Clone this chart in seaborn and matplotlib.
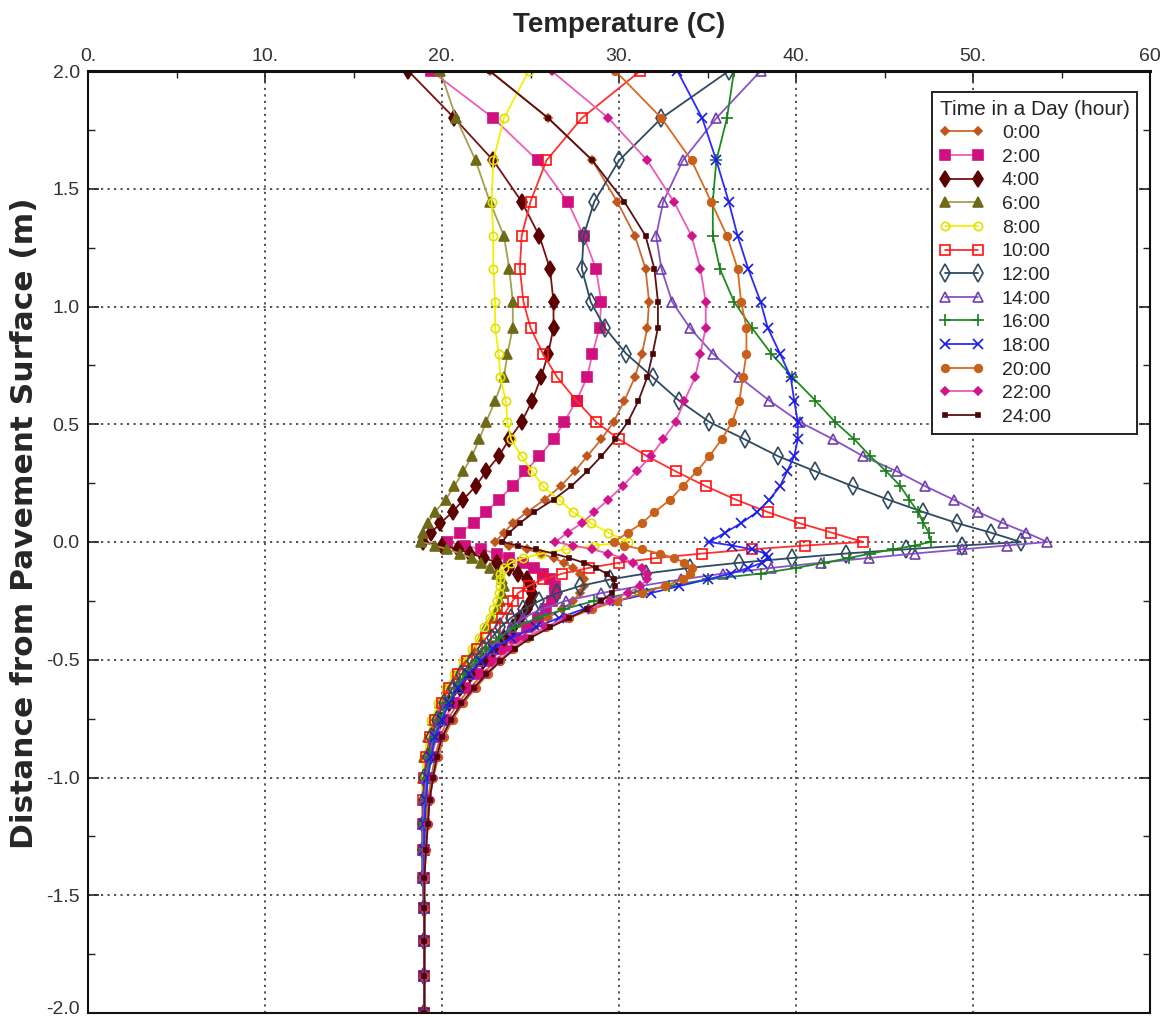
import matplotlib
matplotlib.use("Agg")
import matplotlib.pyplot as plt
from matplotlib.ticker import MultipleLocator
from matplotlib.transforms import ScaledTranslation
import seaborn as sns

# depth of the model nodes (m), surface = 0
depth = [2.0, 1.8, 1.62, 1.445, 1.30, 1.16, 1.02, 0.91, 0.80, 0.70, 0.60, 0.51, 0.436, 0.364, 0.30,
         0.237, 0.18, 0.127, 0.08, 0.04, 0.0,
         -0.015, -0.031, -0.049, -0.068, -0.088, -0.11, -0.134, -0.159, -0.187, -0.217, -0.25, -0.285,
         -0.322, -0.363, -0.407, -0.454, -0.506, -0.561, -0.62, -0.685, -0.755, -0.83, -0.911, -1.0,
         -1.094, -1.196, -1.307, -1.426, -1.555, -1.694, -1.844, -2.0]

# temperature (C) at each node, one list per hour
t_0000 = [22.7, 26.0, 28.5, 29.9, 30.9, 31.5, 31.7, 31.6, 31.3, 30.9, 30.3, 29.7, 29.0, 28.2, 27.5,
          26.7, 25.8, 24.8, 24.0, 23.5, 23.0,
          23.8, 24.8, 25.6, 26.3, 26.9, 27.4, 27.8, 28.0, 28.0, 27.8, 27.4, 26.8, 26.0, 25.2, 24.4,
          23.7, 23.0, 22.3, 21.6, 20.9, 20.3, 19.9, 19.6, 19.4, 19.2, 19.1, 19.0, 19.0, 19.0, 19.0, 19.0, 19.0]
t_0200 = [19.4, 22.9, 25.4, 27.1, 28.0, 28.7, 29.0, 28.9, 28.5, 28.2, 27.6, 26.9, 26.3, 25.5, 24.7,
          24.0, 23.2, 22.5, 21.8, 21.0, 20.3,
          21.3, 22.2, 23.1, 23.8, 24.6, 25.2, 25.7, 26.1, 26.4, 26.4, 26.2, 25.9, 25.4, 24.8, 24.1,
          23.4, 22.7, 22.0, 21.3, 20.7, 20.1, 19.7, 19.4, 19.2, 19.1, 19.0, 19.0, 19.0, 19.0, 19.0, 19.0, 19.0]
t_0400 = [18.1, 20.7, 22.9, 24.5, 25.5, 26.1, 26.3, 26.3, 26.0, 25.6, 25.1, 24.5, 23.8, 23.2, 22.5,
          21.9, 21.2, 20.6, 19.9, 19.4, 18.9,
          20.0, 20.9, 21.6, 22.4, 23.1, 23.8, 24.3, 24.8, 25.0, 25.1, 25.0, 24.8, 24.4, 24.0, 23.5,
          22.9, 22.3, 21.6, 21.0, 20.4, 19.9, 19.5, 19.3, 19.1, 19.0, 19.0, 18.9, 18.9, 19.0, 19.0, 19.0, 19.0]
t_0600 = [19.9, 20.8, 21.9, 22.7, 23.5, 23.8, 24.0, 24.0, 23.7, 23.5, 23.0, 22.5, 22.1, 21.7, 21.2,
          20.7, 20.2, 19.6, 19.2, 18.9, 18.8,
          19.6, 20.3, 21.0, 21.7, 22.2, 22.7, 23.1, 23.4, 23.5, 23.4, 23.3, 23.1, 22.8, 22.5, 22.2,
          21.8, 21.3, 20.8, 20.3, 19.9, 19.5, 19.2, 19.0, 18.9, 18.9, 18.9, 18.9, 18.9, 19.0, 19.0, 19.0, 19.0]
t_0800 = [24.9, 23.5, 22.9, 22.8, 22.9, 22.9, 23.0, 23.0, 23.2, 23.3, 23.6, 23.7, 23.9, 24.5, 25.1,
          25.7, 26.6, 27.4, 28.4, 29.4, 30.5,
          28.6, 27.0, 25.6, 24.6, 23.9, 23.5, 23.3, 23.3, 23.3, 23.2, 23.1, 22.9, 22.7, 22.4, 22.1,
          21.7, 21.2, 20.7, 20.2, 19.8, 19.4, 19.2, 19.0, 18.9, 18.9, 18.9, 18.9, 18.9, 19.0, 19.0, 19.0, 19.0]
t_1000 = [31.2, 27.9, 25.9, 25.0, 24.5, 24.4, 24.6, 25.0, 25.7, 26.5, 27.6, 28.7, 30.0, 31.6, 33.2,
          34.9, 36.6, 38.4, 40.2, 42.0, 43.8,
          40.5, 37.5, 34.7, 32.1, 30.0, 28.3, 26.8, 25.7, 24.9, 24.3, 24.0, 23.7, 23.4, 23.0, 22.5,
          22.0, 21.4, 20.9, 20.4, 20.0, 19.6, 19.3, 19.1, 19.0, 18.9, 18.9, 18.9, 18.9, 19.0, 19.0, 19.0, 19.0]
t_1200 = [36.2, 32.4, 30.0, 28.6, 28.0, 27.9, 28.4, 29.2, 30.4, 31.9, 33.4, 35.1, 37.1, 39.0, 41.1,
          43.2, 45.2, 47.2, 49.1, 51.0, 52.7,
          49.4, 46.2, 42.8, 39.8, 36.8, 34.0, 31.5, 29.5, 27.8, 26.5, 25.5, 24.6, 23.9, 23.3, 22.8,
          22.3, 21.7, 21.1, 20.6, 20.1, 19.7, 19.4, 19.2, 19.0, 19.0, 18.9, 18.9, 18.9, 19.0, 19.0, 19.0, 19.0]
t_1400 = [38.0, 35.5, 33.6, 32.5, 32.1, 32.4, 33.0, 34.0, 35.3, 36.8, 38.5, 40.2, 42.1, 43.8, 45.7,
          47.3, 48.9, 50.3, 51.7, 53.0, 54.2,
          51.9, 49.4, 46.7, 44.1, 41.4, 38.6, 35.9, 33.5, 31.2, 29.0, 27.0, 25.6, 24.6, 23.9, 23.3,
          22.7, 22.1, 21.5, 20.9, 20.3, 19.9, 19.5, 19.3, 19.1, 19.0, 18.9, 18.9, 18.9, 19.0, 19.0, 19.0, 19.0]
t_1600 = [36.5, 36.1, 35.5, 35.3, 35.3, 35.7, 36.5, 37.5, 38.6, 39.8, 41.1, 42.2, 43.3, 44.2, 45.1,
          45.9, 46.4, 46.9, 47.2, 47.5, 47.6,
          46.7, 45.5, 44.2, 43.0, 41.6, 40.0, 38.0, 35.0, 32.8, 30.6, 28.6, 26.9, 25.4, 24.1, 23.2,
          22.5, 21.9, 21.3, 20.8, 20.3, 19.9, 19.6, 19.3, 19.2, 19.1, 19.0, 19.0, 19.0, 19.0, 19.0, 19.0, 19.0]
t_1800 = [33.3, 34.7, 35.5, 36.2, 36.7, 37.3, 38.0, 38.4, 39.1, 39.7, 39.9, 40.1, 40.1, 39.9, 39.5,
          39.1, 38.5, 37.8, 36.9, 36.0, 35.1,
          36.4, 37.5, 38.3, 38.4, 38.1, 37.3, 36.3, 35.0, 33.4, 31.8, 29.9, 28.0, 26.6, 25.3, 23.9,
          22.9, 22.2, 21.5, 20.9, 20.4, 20.0, 19.6, 19.4, 19.2, 19.1, 19.0, 19.0, 19.0, 19.0, 19.0, 19.0, 19.0]
t_2000 = [29.8, 32.4, 34.1, 35.2, 36.1, 36.7, 36.9, 37.2, 37.2, 37.0, 36.8, 36.4, 35.8, 35.1, 34.4,
          33.6, 32.9, 32.0, 31.3, 30.5, 29.7,
          30.3, 31.3, 32.3, 33.1, 33.7, 34.1, 34.0, 33.6, 32.6, 31.3, 29.9, 28.5, 27.2, 25.9, 24.8,
          24.0, 23.3, 22.6, 21.9, 21.2, 20.6, 20.1, 19.8, 19.5, 19.3, 19.2, 19.1, 19.0, 19.0, 19.0, 19.0, 19.0]
t_2200 = [26.2, 29.4, 31.6, 33.1, 34.1, 34.6, 34.9, 34.9, 34.6, 34.3, 33.7, 33.2, 32.5, 31.8, 31.0,
          30.2, 29.4, 28.6, 27.9, 27.1, 26.4,
          27.4, 28.5, 29.4, 30.2, 30.8, 31.3, 31.6, 31.6, 31.2, 30.5, 29.5, 28.3, 27.0, 25.8, 24.7,
          23.9, 23.2, 22.5, 21.8, 21.1, 20.5, 20.0, 19.7, 19.5, 19.3, 19.2, 19.1, 19.0, 19.0, 19.0, 19.0, 19.0]
t_2400 = [22.7, 26.0, 28.5, 30.3, 31.5, 32.0, 32.2, 32.2, 31.9, 31.6, 31.1, 30.5, 29.8, 29.0, 28.2,
          27.3, 26.3, 25.2, 24.4, 23.8, 23.4,
          24.3, 25.3, 26.3, 27.2, 28.0, 28.7, 29.3, 29.7, 29.8, 29.6, 29.0, 28.2, 27.2, 26.1, 25.0,
          24.1, 23.3, 22.5, 21.8, 21.1, 20.5, 20.0, 19.7, 19.5, 19.3, 19.2, 19.1, 19.0, 19.0, 19.0, 19.0, 19.0]

hours = ["0:00", "2:00", "4:00", "6:00", "8:00", "10:00", "12:00",
         "14:00", "16:00", "18:00", "20:00", "22:00", "24:00"]
series = [t_0000, t_0200, t_0400, t_0600, t_0800, t_1000, t_1200,
          t_1400, t_1600, t_1800, t_2000, t_2200, t_2400]

x_ticks = [0, 10, 20, 30, 40, 50, 60]
x_ticklabels = ["0.", "10.", "20.", "30.", "40.", "50.", "60"]
y_ticks = [2.0, 1.5, 1.0, 0.5, 0.0, -0.5, -1.0, -1.5, -2.0]

# line colour, marker colour, marker, size, filled
styles = [
    ("#c86a34", "#c0561c", "D", 4.5, True),
    ("#ee5fb4", "#d0107f", "s", 6.5, True),
    ("#7a1010", "#5c0000", "d", 8, True),
    ("#a4a050", "#6f6a18", "^", 6.5, True),
    ("#f2f200", "#e0e000", "o", 6, False),
    ("#ff3030", "#ff1010", "s", 7, False),
    ("#2f4a60", "#2f4a60", "d", 9, False),
    ("#8a52c8", "#7040b0", "^", 7, False),
    ("#1e8c1e", "#1e7a1e", "+", 8, False),
    ("#2a2aff", "#1a1ae0", "x", 6.5, False),
    ("#d86a20", "#c8601a", "o", 5.5, True),
    ("#e85cb4", "#d0158c", "D", 4.5, True),
    ("#5a1010", "#4a0505", "s", 3, True),
]

sns.set_theme(style="white")
plt.rcParams["font.family"] = ["Liberation Sans", "DejaVu Sans"]

fig = plt.figure(figsize=(11.6, 10.17), dpi=100)
ax = fig.add_axes([88 / 1160, 4 / 1017, 1062 / 1160, 942 / 1017])

for temps, hr, (lc, mc, mk, ms, filled) in zip(series, hours, styles):
    sns.lineplot(x=temps, y=depth, sort=False, estimator=None, ax=ax, color=lc,
                 linewidth=1.3, marker=mk, markersize=ms,
                 markerfacecolor=mc if filled else "none", markeredgecolor=mc,
                 markeredgewidth=1.2, label=hr)

ax.set_xlim(0, 60)
ax.set_ylim(-2.0, 2.0)
ax.xaxis.tick_top()
ax.xaxis.set_label_position("top")
ax.set_xticks(x_ticks)
ax.set_xticklabels(x_ticklabels)
ax.xaxis.set_minor_locator(MultipleLocator(5))
ax.set_yticks(y_ticks)
ax.set_yticklabels([f"{v:.1f}" for v in y_ticks])
ax.yaxis.set_minor_locator(MultipleLocator(0.25))
ax.tick_params(axis="x", which="both", direction="in", top=True, bottom=False,
               labelsize=14, labelcolor="#333333", pad=4, color="#222222")
ax.tick_params(axis="x", which="major", length=8, width=1.2)
ax.tick_params(axis="x", which="minor", length=5, width=1.0)
ax.tick_params(axis="y", which="both", direction="in", left=True, right=True,
               labelsize=14, labelcolor="#333333", pad=6, color="#222222")
ax.tick_params(axis="y", which="major", length=8, width=1.2)
ax.tick_params(axis="y", which="minor", length=5, width=1.0)

# keep the bottom tick label inside the canvas
last = ax.get_yticklabels()[-1]
last.set_transform(last.get_transform() + ScaledTranslation(0, 5 / 100, fig.dpi_scale_trans))

ax.grid(True, which="major", color="#444444", linestyle=(0, (1.2, 2.4)), linewidth=1.3)
for side, sp in ax.spines.items():
    sp.set_visible(True)
    sp.set_color("#111111")
    sp.set_linewidth(2.2 if side == "top" else 1.5)

ax.set_xlabel("Temperature (C)", fontsize=20, fontweight="bold", labelpad=12)
ax.set_ylabel("Distance from Pavement Surface (m)", fontsize=22.5, fontweight="bold",
              family="DejaVu Sans")
ax.yaxis.set_label_coords(-0.046, 0.52)

leg = ax.legend(title="Time in a Day (hour)", loc="upper right", bbox_to_anchor=(0.988, 0.978),
                borderaxespad=0, alignment="left", numpoints=2, fontsize=14, title_fontsize=15,
                frameon=True, fancybox=False, framealpha=1, edgecolor="#222222",
                handlelength=2.3, handletextpad=0.9, labelspacing=0.31, borderpad=0.4)
leg.get_frame().set_linewidth(1.4)

fig.savefig("out.png", dpi=100)
